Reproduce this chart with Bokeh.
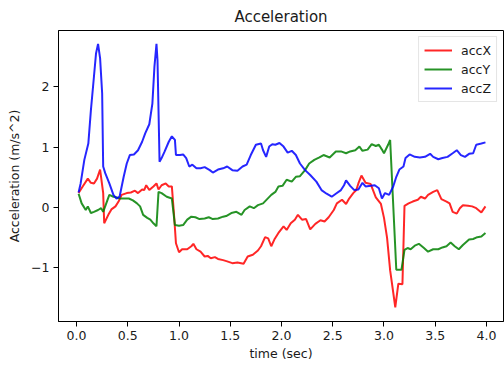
from bokeh.plotting import figure
from bokeh.models import Range1d, FixedTicker, NumeralTickFormatter, CustomJSTickFormatter
from bokeh.embed import file_html
from bokeh.resources import INLINE

# time (sec) and acceleration (m/s^2)
tz = [0.02, 0.04, 0.076, 0.115, 0.14, 0.17, 0.19, 0.21, 0.23, 0.25,
      0.26, 0.28, 0.32, 0.36, 0.39, 0.42, 0.46, 0.49, 0.52, 0.56,
      0.60, 0.64, 0.67, 0.71, 0.74, 0.76, 0.78, 0.79, 0.81, 0.83,
      0.86, 0.90, 0.93, 0.96, 0.97, 1.01, 1.04, 1.07, 1.10, 1.13,
      1.17, 1.21, 1.25, 1.30, 1.33, 1.38, 1.43, 1.47, 1.52, 1.57,
      1.62, 1.66, 1.70, 1.75, 1.80, 1.82, 1.85, 1.88, 1.91, 1.94,
      1.98, 2.02, 2.06, 2.10, 2.14, 2.18, 2.23, 2.28, 2.34, 2.39,
      2.44, 2.49, 2.53, 2.58, 2.61, 2.63, 2.67, 2.71, 2.75, 2.79,
      2.82, 2.87, 2.91, 2.95, 2.98, 3.01, 3.05, 3.09, 3.12, 3.15,
      3.19, 3.21, 3.25, 3.30, 3.35, 3.40, 3.45, 3.48, 3.53, 3.57,
      3.62, 3.67, 3.71, 3.75, 3.79, 3.83, 3.87, 3.90, 3.95, 3.99]
accZ = [0.25, 0.40, 0.79, 1.06, 1.61, 2.17, 2.55, 2.71, 2.47, 1.89,
        0.68, 0.57, 0.40, 0.21, 0.15, 0.18, 0.51, 0.73, 0.87, 0.88,
        0.95, 1.09, 1.23, 1.38, 1.72, 2.33, 2.71, 2.44, 0.76, 0.82,
        0.93, 1.09, 1.18, 1.12, 0.87, 0.87, 0.88, 0.82, 0.68, 0.71,
        0.65, 0.65, 0.67, 0.62, 0.58, 0.63, 0.65, 0.68, 0.62, 0.61,
        0.68, 0.71, 0.87, 1.04, 1.06, 0.95, 0.84, 1.01, 1.05, 1.04,
        1.07, 1.01, 0.91, 0.94, 0.87, 0.73, 0.62, 0.54, 0.43, 0.29,
        0.23, 0.18, 0.23, 0.29, 0.37, 0.45, 0.36, 0.29, 0.30, 0.41,
        0.35, 0.36, 0.37, 0.32, 0.15, 0.24, 0.21, 0.35, 0.51, 0.63,
        0.68, 0.82, 0.88, 0.84, 0.83, 0.84, 0.89, 0.84, 0.80, 0.82,
        0.84, 0.90, 0.95, 0.87, 0.84, 0.89, 0.90, 1.04, 1.06, 1.08]

tx = [0.02, 0.06, 0.11, 0.14, 0.17, 0.20, 0.23, 0.26, 0.27, 0.31,
      0.34, 0.38, 0.41, 0.44, 0.49, 0.53, 0.57, 0.60, 0.64, 0.66,
      0.68, 0.71, 0.75, 0.78, 0.80, 0.83, 0.87, 0.90, 0.93, 0.95,
      0.97, 1.00, 1.03, 1.08, 1.12, 1.14, 1.17, 1.21, 1.25, 1.28,
      1.31, 1.35, 1.38, 1.43, 1.47, 1.52, 1.57, 1.63, 1.67, 1.72,
      1.77, 1.80, 1.84, 1.87, 1.90, 1.93, 1.97, 2.02, 2.05, 2.09,
      2.13, 2.16, 2.20, 2.24, 2.28, 2.33, 2.38, 2.42, 2.46, 2.51,
      2.54, 2.59, 2.63, 2.66, 2.70, 2.73, 2.75, 2.78, 2.82, 2.87,
      2.92, 2.97, 3.00, 3.03, 3.06, 3.11, 3.14, 3.18, 3.20, 3.24,
      3.28, 3.33, 3.36, 3.40, 3.43, 3.48, 3.52, 3.56, 3.61, 3.64,
      3.67, 3.71, 3.74, 3.77, 3.82, 3.86, 3.90, 3.95, 3.99]
accX = [0.24, 0.35, 0.48, 0.41, 0.40, 0.48, 0.63, 0.24, -0.26, -0.12,
        -0.03, 0.02, 0.10, 0.21, 0.24, 0.25, 0.28, 0.24, 0.30, 0.29,
        0.37, 0.29, 0.35, 0.40, 0.30, 0.37, 0.40, 0.35, 0.35, -0.09,
        -0.59, -0.74, -0.69, -0.69, -0.64, -0.60, -0.69, -0.73, -0.81, -0.80,
        -0.84, -0.82, -0.85, -0.87, -0.89, -0.92, -0.91, -0.93, -0.81, -0.78,
        -0.71, -0.64, -0.49, -0.51, -0.64, -0.53, -0.42, -0.31, -0.37, -0.26,
        -0.20, -0.12, -0.20, -0.19, -0.36, -0.27, -0.21, -0.23, -0.16, -0.04,
        0.07, 0.13, 0.06, 0.15, 0.24, 0.29, 0.40, 0.53, 0.41, 0.39,
        0.17, 0.06, -0.17, -0.50, -1.04, -1.65, -1.26, -1.27, 0.03, 0.07,
        0.10, 0.13, 0.18, 0.15, 0.21, 0.26, 0.29, 0.14, 0.10, 0.07,
        -0.07, -0.10, -0.01, 0.04, 0.03, 0.02, -0.01, -0.08, 0.02]

ty = [0.02, 0.05, 0.09, 0.11, 0.14, 0.17, 0.21, 0.24, 0.26, 0.29,
      0.32, 0.36, 0.39, 0.42, 0.47, 0.51, 0.55, 0.59, 0.62, 0.65,
      0.69, 0.72, 0.75, 0.78, 0.80, 0.83, 0.88, 0.93, 0.96, 1.00,
      1.04, 1.08, 1.12, 1.16, 1.20, 1.25, 1.29, 1.33, 1.38, 1.43,
      1.46, 1.51, 1.56, 1.61, 1.64, 1.69, 1.73, 1.77, 1.82, 1.86,
      1.90, 1.94, 1.97, 2.01, 2.05, 2.10, 2.14, 2.18, 2.23, 2.27,
      2.32, 2.37, 2.41, 2.47, 2.53, 2.58, 2.63, 2.67, 2.72, 2.76,
      2.79, 2.84, 2.88, 2.92, 2.95, 2.98, 3.00, 3.04, 3.06, 3.12,
      3.17, 3.20, 3.23, 3.26, 3.30, 3.34, 3.39, 3.43, 3.48, 3.53,
      3.57, 3.61, 3.65, 3.69, 3.73, 3.77, 3.83, 3.87, 3.91, 3.95,
      3.99]
accY = [0.23, 0.07, -0.04, 0.02, -0.09, -0.07, -0.04, -0.01, -0.07, 0.07,
        0.21, 0.18, 0.17, 0.15, 0.15, 0.15, 0.12, 0.07, 0.02, -0.12,
        -0.17, -0.20, -0.26, -0.31, 0.26, 0.24, 0.18, 0.15, -0.29, -0.30,
        -0.29, -0.20, -0.15, -0.16, -0.19, -0.18, -0.16, -0.19, -0.18, -0.15,
        -0.14, -0.09, -0.07, -0.12, -0.04, 0.02, -0.01, 0.04, 0.07, 0.14,
        0.21, 0.26, 0.35, 0.36, 0.46, 0.43, 0.51, 0.52, 0.62, 0.73,
        0.79, 0.83, 0.87, 0.83, 0.93, 0.93, 0.90, 0.93, 0.95, 1.01,
        0.94, 0.96, 1.05, 1.02, 1.04, 0.96, 0.90, 1.04, 1.12, -1.03,
        -1.03, -0.70, -0.67, -0.69, -0.63, -0.60, -0.67, -0.73, -0.69, -0.69,
        -0.66, -0.64, -0.58, -0.64, -0.69, -0.62, -0.53, -0.52, -0.49, -0.48,
        -0.42]

x_ticks = [0.0, 0.5, 1.0, 1.5, 2.0, 2.5, 3.0, 3.5, 4.0]
y_ticks = [-1, 0, 1, 2]

FONT = "DejaVu Sans"

p = figure(width=504, height=365, output_backend="svg", toolbar_location=None,
           title="Acceleration",
           x_range=Range1d(-0.176, 4.166), y_range=Range1d(-1.886, 2.932))
p.min_border_left = 58
p.min_border_right = 1
p.min_border_top = 29
p.min_border_bottom = 44
p.background_fill_color = "white"
p.border_fill_color = "white"
p.outline_line_color = "black"
p.outline_line_alpha = 1.0
p.outline_line_width = 1
p.grid.visible = False

p.title.align = "center"
p.title.text_font = FONT
p.title.text_font_size = "15px"
p.title.text_font_style = "normal"
p.title.text_color = "#1a1a1a"

p.line(tx, accX, color="red", line_width=2, alpha=0.85, legend_label="accX")
p.line(ty, accY, color="green", line_width=2, alpha=0.85, legend_label="accY")
p.line(tz, accZ, color="blue", line_width=2, alpha=0.85, legend_label="accZ")

for ax in (p.xaxis[0], p.yaxis[0]):
    ax.axis_line_color = "black"
    ax.major_tick_line_color = "black"
    ax.minor_tick_line_color = None
    ax.major_tick_out = 5
    ax.major_tick_in = 0
    ax.major_label_text_font = FONT
    ax.major_label_text_font_size = "12.5px"
    ax.major_label_text_color = "#1a1a1a"
    ax.axis_label_text_font = FONT
    ax.axis_label_text_font_size = "12.5px"
    ax.axis_label_text_font_style = "normal"
    ax.axis_label_text_color = "#1a1a1a"
    ax.major_label_standoff = 4

p.xaxis.ticker = FixedTicker(ticks=x_ticks)
p.xaxis.formatter = NumeralTickFormatter(format="0.0")
p.xaxis.axis_label = "time (sec)"
p.xaxis.axis_label_standoff = 3

p.yaxis.ticker = FixedTicker(ticks=y_ticks)
p.yaxis.formatter = CustomJSTickFormatter(code="return (tick < 0 ? '\u2212' : '') + Math.abs(tick).toString();")
p.yaxis.axis_label = "Acceleration (m/s^2)"
p.yaxis.axis_label_standoff = 6

lg = p.legend[0]
lg.location = "top_right"
lg.margin = 6
lg.padding = 5
lg.spacing = 3
lg.glyph_width = 28
lg.glyph_height = 16
lg.label_height = 16
lg.label_standoff = 9
lg.label_text_font = FONT
lg.label_text_font_size = "12.5px"
lg.label_text_color = "#1a1a1a"
lg.border_line_color = "#cccccc"
lg.border_line_width = 1
lg.background_fill_alpha = 0.8

open("out.html", "w").write(file_html(p, INLINE))
